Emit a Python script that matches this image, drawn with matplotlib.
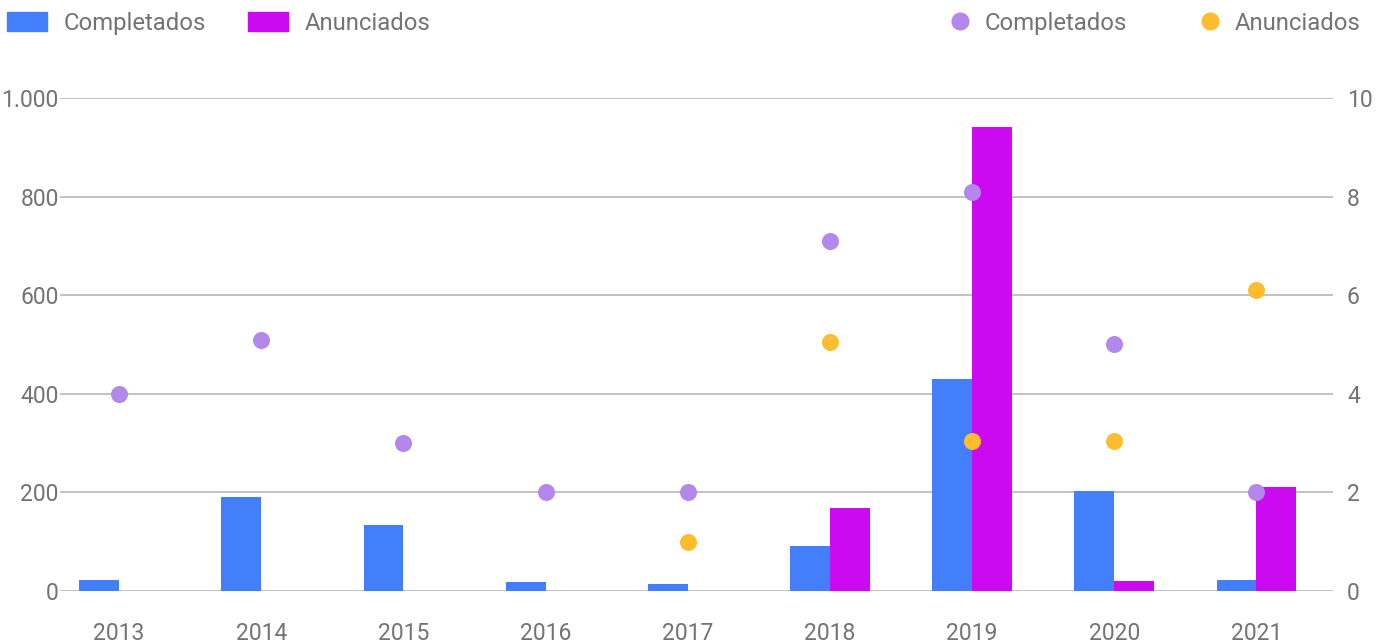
import matplotlib.pyplot as plt
import numpy as np
from matplotlib.lines import Line2D
from matplotlib.patches import Patch
from matplotlib.ticker import FuncFormatter

plt.rcParams['font.family'] = ['Roboto', 'DejaVu Sans']
plt.rcParams['font.weight'] = 'normal'

years = ["2013", "2014", "2015", "2016", "2017", "2018", "2019", "2020", "2021"]

# montos (eje izquierdo)
monto_completados = [22, 191, 134, 18, 14, 91, 430, 203, 22]
monto_anunciados = [0, 0, 0, 0, 0, 168, 941, 20, 211]

# cantidad de proyectos (eje derecho)
cant_completados = [4, 5.1, 3, 2, 2, 7.1, 8.1, 5, 2]
cant_anunciados = [None, None, None, None, 1, 5.05, 3.05, 3.05, 6.1]

blue = "#437ffa"
magenta = "#cb0af2"
purple = "#b387eb"
orange = "#fdbd2f"
text_grey = "#737373"
grid_grey = "#bdbdbd"

x = np.arange(len(years))
w = 0.28
fs_ticks = 16.5
fs_legend = 17.2

fig = plt.figure(figsize=(13.8, 6.44), dpi=100)
ax = fig.add_axes([0.0435, 0.0823, 0.9225, 0.7657])

ax.bar(x - w / 2, monto_completados, width=w, color=blue, zorder=2)
ax.bar(x + w / 2, monto_anunciados, width=w, color=magenta, zorder=2)

ax.set_ylim(0, 1000)
ax.set_xlim(-0.415, 8.54)
ax.set_yticks(range(0, 1001, 200))
ax.yaxis.set_major_formatter(FuncFormatter(lambda v, p: f"{int(v):,}".replace(",", ".")))
ax.set_xticks(x)
ax.set_xticklabels(years)
ax.grid(axis="y", color=grid_grey, linewidth=1.3, zorder=0)
for s in ax.spines.values():
    s.set_visible(False)
ax.tick_params(axis="both", length=0, labelsize=fs_ticks, colors=text_grey)
ax.tick_params(axis="y", pad=1)
ax.tick_params(axis="x", pad=22)

ax2 = ax.twinx()
ax2.set_ylim(0, 10)
ax2.set_yticks(range(0, 11, 2))
for s in ax2.spines.values():
    s.set_visible(False)
ax2.tick_params(axis="y", length=0, labelsize=fs_ticks, colors=text_grey, pad=10)

xc = [i for i, v in enumerate(cant_completados) if v is not None]
yc = [v for v in cant_completados if v is not None]
xa = [i for i, v in enumerate(cant_anunciados) if v is not None]
ya = [v for v in cant_anunciados if v is not None]
ax2.scatter(xc, yc, s=150, color=purple, zorder=3, linewidths=0)
ax2.scatter(xa, ya, s=150, color=orange, zorder=3, linewidths=0)

# leyendas
bar_handles = [Patch(color=blue, label="Completados"), Patch(color=magenta, label="Anunciados")]
fig.legend(handles=bar_handles, loc="upper left", bbox_to_anchor=(0.005, 0.982), ncol=2,
           frameon=False, fontsize=fs_legend, labelcolor=text_grey, handlelength=1.68,
           handleheight=0.86, handletextpad=0.7, columnspacing=1.75,
           borderpad=0, borderaxespad=0)

dot_handles = [Line2D([], [], marker="o", linestyle="", markersize=12, color=purple, label="Completados"),
               Line2D([], [], marker="o", linestyle="", markersize=12, color=orange, label="Anunciados")]
fig.legend(handles=dot_handles, loc="upper right", bbox_to_anchor=(0.986, 0.982), ncol=2,
           frameon=False, fontsize=fs_legend, labelcolor=text_grey, handlelength=0.9,
           handletextpad=0.6, columnspacing=3.0, borderpad=0, borderaxespad=0)

fig.savefig("out.png", dpi=100)
